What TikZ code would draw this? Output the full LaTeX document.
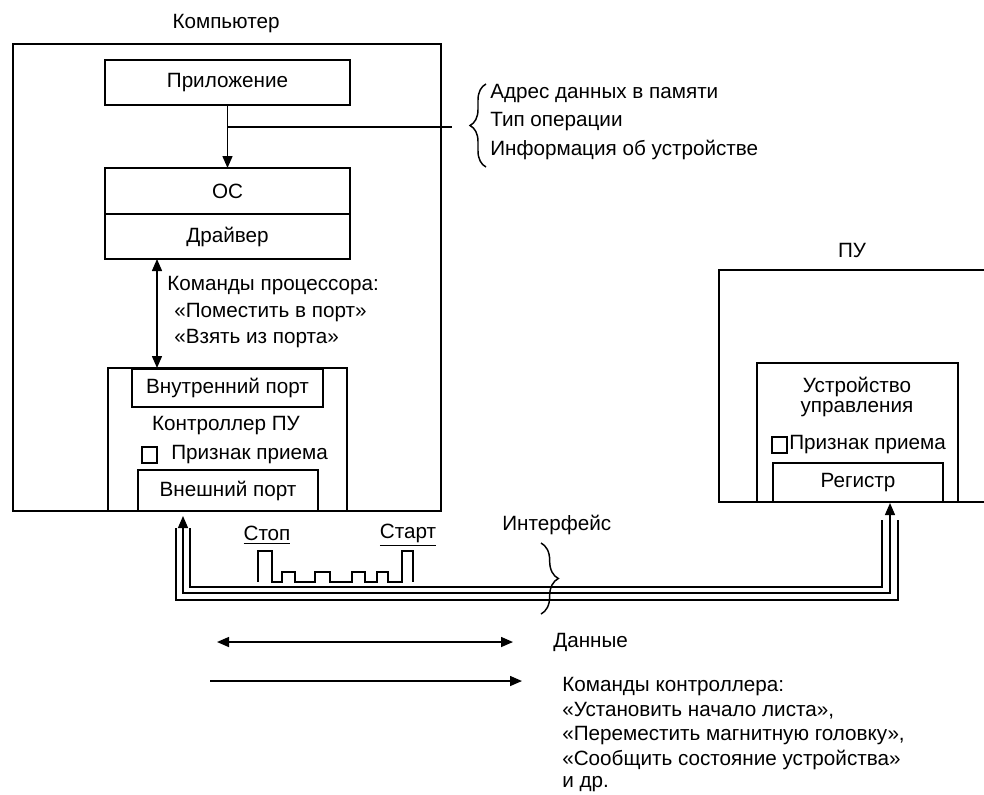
\documentclass[tikz,border=0pt]{standalone}
\usepackage{fontspec}
\setmainfont{Liberation Sans}
\usetikzlibrary{arrows.meta,decorations.pathreplacing,calc}
\newcommand\bxnode[6]{\node[box,minimum width={(#4-#2)*0.75pt},minimum height={(#5-#3)*0.75pt}] (#1) at ({(#2+#4)/2},{(#3+#5)/2}) {#6};}
\begin{document}
\begin{tikzpicture}[x=0.75pt,y=-0.75pt,
  every node/.style={font=\fontsize{15.5}{18}\selectfont},
  box/.style={draw, line width=1.1pt, inner sep=0pt, outer sep=0pt, rectangle},
  ln/.style={line width=1.1pt},
  wire/.style={line width=1pt},
  arr/.style={ln, -{Triangle[length=9pt,width=7.5pt]}},
  darr/.style={ln, {Triangle[length=9pt,width=7.5pt]}-{Triangle[length=9pt,width=7.5pt]}},
  txt/.style={anchor=west, inner sep=0pt},
  lbl/.style={inner sep=0pt},
]
\useasboundingbox (0,0) rectangle (984,794);

% ---------- Computer ----------
\node[lbl] (comptitle) at (226,24) {Компьютер};
\bxnode{comp}{13}{44}{441}{511}{}
\bxnode{app}{105}{60}{350}{105}{Приложение}
\bxnode{os}{105}{168}{350}{214}{ОС}
\bxnode{drv}{105}{214}{350}{259}{Драйвер}
\draw[arr] (app.south) -- (os.north);
\coordinate (tap) at (227.5,127);
\coordinate (tapend) at (452,127);
\draw[ln] (tap) -- (tapend);
\draw[ln, decorate, decoration={brace, amplitude=12pt}] (486,167) -- (486,84);
\node[txt] (info1) at (490,94) {Адрес данных в памяти};
\node[txt] (info2) at (490,122) {Тип операции};
\node[txt] (info3) at (490,150) {Информация об устройстве};

% controller
\bxnode{ctrl}{108}{368}{347}{511}{}
\bxnode{inport}{132}{369}{323}{407}{Внутренний порт}
\node[lbl] (ctrltxt) at (226,426) {Контроллер ПУ};
\bxnode{chk1}{142}{447}{157}{463}{}
\node[txt] (flag1) at (171,455) {Признак приема};
\bxnode{export}{138}{470}{318}{511}{Внешний порт}

\draw[darr] ([xshift=52*0.75pt]drv.south west) -- ([xshift=49*0.75pt]ctrl.north west);
\node[txt] (cmd1) at (167,286) {Команды процессора:};
\node[txt] (cmd2) at (174,313) {«Поместить в порт»};
\node[txt] (cmd3) at (174,339) {«Взять из порта»};

% ---------- Peripheral device ----------
\node[lbl] (putitle) at (852,250) {ПУ};
\draw[ln] (984,270) -- (719,270) -- (719,502) -- (984,502);
\bxnode{ctl}{757}{363}{958}{502}{}
\node[lbl] (ctl1) at (857,387) {Устройство};
\node[lbl] (ctl2) at (857,409) {управления};
\bxnode{chk2}{772}{437}{787}{453}{}
\node[txt] (flag2) at (789,445) {Признак приема};
\bxnode{reg}{773}{463}{943}{502}{Регистр}

% ---------- Interface wires ----------
\coordinate (lin) at (190,528);
\coordinate (lmid) at (183,516);
\coordinate (lout) at (176,528);
\coordinate (rin) at (882,520);
\coordinate (rmid) at (890,503);
\coordinate (rout) at (898,520);
\draw[wire] (lin) -- (190,587) -- (882,587) -- (rin);
\draw[wire, {Triangle[length=9pt,width=7.5pt]}-{Triangle[length=9pt,width=7.5pt]}] (lmid) -- (183,593) -- (890,593) -- (rmid);
\draw[wire] (lout) -- (176,600) -- (898,600) -- (rout);

% signal
\node[lbl] (stop) at (267,535) {\underline{Стоп}};
\node[lbl] (start) at (408,535) {\underline{Старт}};
\draw[line width=0.9pt] (258,582) -- (258,551) -- (272,551) -- (272,582) -- (282,582) -- (282,572) -- (295,572) -- (295,582) -- (315,582) -- (315,572) -- (330,572) -- (330,582) -- (352,582) -- (352,572) -- (365,572) -- (365,582) -- (377,582) -- (377,572) -- (388,572) -- (388,582) -- (402,582) -- (402,551) -- (413,551) -- (413,582);

\node[txt] (iface) at (502,525) {Интерфейс};
\draw[ln, decorate, decoration={brace, amplitude=13pt}] (541,543) -- (541,614);

% ---------- Legend ----------
\coordinate (d1) at (217,642);
\coordinate (d2) at (513,642);
\draw[darr] (d1) -- (d2);
\node[txt] (data) at (553,642) {Данные};
\coordinate (c1) at (210,681);
\coordinate (c2) at (522,681);
\draw[arr] (c1) -- (c2);
\node[txt] (lc1) at (562,687) {Команды контроллера:};
\node[txt] (lc2) at (562,711) {«Установить начало листа»,};
\node[txt] (lc3) at (562,736) {«Переместить магнитную головку»,};
\node[txt] (lc4) at (562,760) {«Сообщить состояние устройства»};
\node[txt] (lc5) at (562,784) {и др.};
\end{tikzpicture}
\end{document}
